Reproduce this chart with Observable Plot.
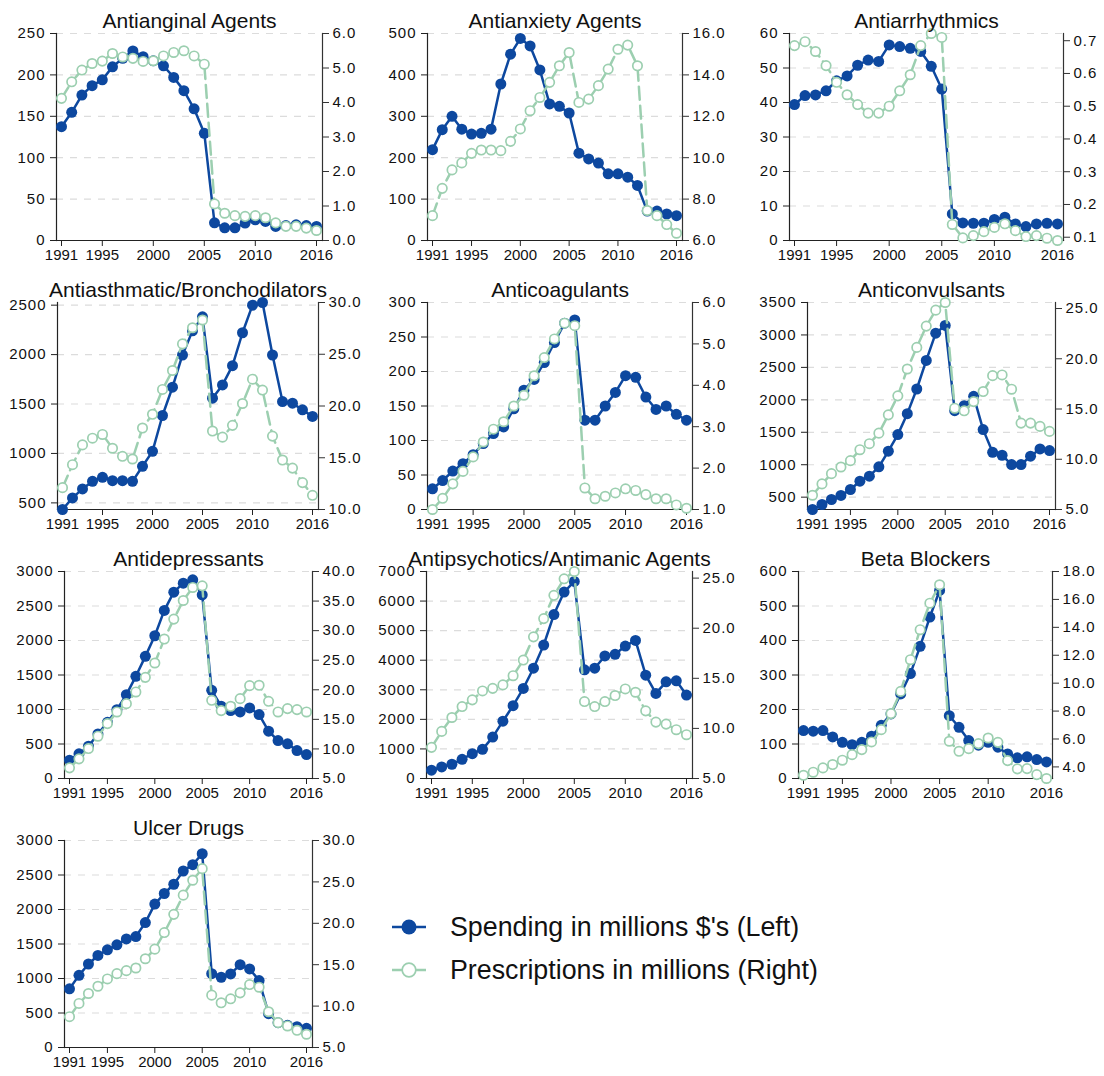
<!DOCTYPE html>
<html>
<head>
<meta charset="utf-8">
<script src="https://cdn.jsdelivr.net/npm/d3@7"></script>
<script src="https://cdn.jsdelivr.net/npm/@observablehq/plot@0.6"></script>
<style>
  body { margin: 0; background: #fff; font-family: "Liberation Sans", Arial, sans-serif; }
  #wrap { position: relative; width: 1104px; height: 1076px; overflow: hidden; }
  .panel { position: absolute; width: 368px; height: 269px; }
  .panel svg [aria-label="y-axis tick label"] { letter-spacing: 1px; }
  .lg-row { position: absolute; left: 392px; height: 34px; display: flex; align-items: center; font-size: 26.8px; color: #111; white-space: nowrap; }
  .lg-row svg { margin-right: 24px; }
</style>
</head>
<body>
<div id="wrap"></div>
<script>
// ---------------- data ----------------
const years = [1991,1992,1993,1994,1995,1996,1997,1998,1999,2000,2001,2002,2003,2004,2005,2006,2007,2008,2009,2010,2011,2012,2013,2014,2015,2016];
const xTicks = [1991, 1995, 2000, 2005, 2010, 2016];

const titles = ["Antianginal Agents", "Antianxiety Agents", "Antiarrhythmics",
  "Antiasthmatic/Bronchodilators", "Anticoagulants", "Anticonvulsants",
  "Antidepressants", "Antipsychotics/Antimanic Agents", "Beta Blockers", "Ulcer Drugs"];

// Spending in millions $ (left axis)
const spendAntianginal = [137.5,154.8,175.7,187,194,209.8,220,229,222,217,211,197,181,159,129.5,21.3,15.3,15.3,21,25,23,17,18,19,18,17];
const spendAntianxiety = [219.5,267.7,299.9,269,257,259,269,378,450,488,470,412,330,324,308,211,197,187,161,161,153,133,71,71,64,60];
const spendAntiarrhythmics = [39.4,42,42.2,43.4,46.3,47.7,50.8,52.3,51.9,56.7,56.2,55.7,54.8,50.5,43.9,7.7,5.1,5.0,5.0,6.1,6.75,4.8,4.05,4.8,5.0,4.8];
const spendAntiasthmatic = [433,550,641,718,759,725,725,718,870,1021,1384,1670,1996,2240,2382,1559,1693,1888,2221,2500,2527,1996,1525,1508,1441,1374];
const spendAnticoagulants = [30,42,55.7,66.4,79.5,95.5,110,119.7,146,173,188.5,213,242,270,274.8,129.4,129.4,150,169.6,194,191.5,163,145,150,138,129.4];
const spendAnticonvulsants = [310,387,464,526,618,746,823,967,1208,1464,1787,2167,2608,3028,3146,1833,1910,2054,1541,1192,1146,1003,1003,1131,1244,1218];
const spendAntidepressants = [265,357,468,646,815,998,1215,1481,1770,2069,2436,2701,2831,2879,2662,1278,1047,984,965,1022,926,685,550,502,405,347];
const spendAntipsychotics = [280,392,482,650,840,986,1400,1938,2464,3046,3730,4514,5544,6306,6664,3674,3730,4144,4200,4480,4670,3494,2878,3270,3304,2822];
const spendBetaBlockers = [139,137,139,120.6,105,98,105,122.5,154,187,245,304,383,468,545,182,148.5,110,96.5,105,90.7,71,60,62.7,55,48];
const spendUlcer = [850,1046,1210,1334,1416,1488,1574,1608,1810,2078,2232,2366,2558,2650,2808,1070,1018,1066,1200,1138,970,490,360,322,302,278];

// Prescriptions in millions (right axis)
const rxAntianginal = [4.12,4.6,4.94,5.13,5.2,5.42,5.32,5.28,5.19,5.21,5.35,5.45,5.5,5.35,5.11,1.06,0.79,0.72,0.70,0.72,0.66,0.51,0.41,0.41,0.36,0.29];
const rxAntianxiety = [7.2,8.52,9.41,9.75,10.21,10.37,10.37,10.34,10.79,11.39,12.27,12.91,13.64,14.44,15.08,12.67,12.83,13.48,14.28,15.24,15.44,14.44,7.45,7.2,6.77,6.35];
const rxAntiarrhythmics = [0.685,0.697,0.667,0.624,0.573,0.535,0.505,0.479,0.479,0.5,0.547,0.596,0.685,0.722,0.71,0.139,0.098,0.105,0.117,0.13,0.141,0.12,0.102,0.105,0.097,0.09];
const rxAntiasthmatic = [12.11,14.33,16.24,16.89,17.25,15.92,15.14,14.88,17.87,19.2,21.6,23.43,26,27.56,28.31,17.58,16.99,18.13,20.24,22.59,21.54,17.09,14.78,14,12.6,11.37];
const rxAnticoagulants = [1.0,1.27,1.62,1.92,2.27,2.63,2.94,3.12,3.5,3.76,4.23,4.67,5.12,5.5,5.44,1.52,1.26,1.32,1.4,1.5,1.46,1.36,1.26,1.26,1.11,1.03];
const rxAnticonvulsants = [6.42,7.55,8.57,9.23,9.86,10.95,11.55,12.6,14.42,16.31,18.98,21.13,23.25,24.84,25.6,15.08,14.82,15.74,16.74,18.32,18.39,16.97,13.6,13.6,13.27,12.77];
const rxAntidepressants = [6.8,8.32,10.06,12.15,14.28,16.25,17.66,19.63,22.1,24.53,28.58,31.95,35.1,37.3,37.58,18.22,16.48,17.21,18.5,20.7,20.76,18.05,16.25,16.82,16.65,16.25];
const rxAntipsychotics = [8.11,9.7,11.09,12.18,12.85,13.74,14.0,14.34,15.26,16.82,19.14,20.96,23.28,24.93,25.66,12.68,12.18,12.68,13.28,13.94,13.61,11.75,10.63,10.43,9.87,9.37];
const rxBetaBlockers = [3.4,3.62,3.93,4.17,4.48,4.88,5.24,5.79,6.67,7.82,9.41,11.68,13.83,15.73,17.05,5.84,5.12,5.31,5.67,6.07,5.76,4.45,3.86,3.88,3.45,3.17];
const rxUlcer = [8.72,10.32,11.52,12.4,13.28,13.92,14.28,14.6,15.72,16.88,18.88,21.08,23.4,25.2,26.6,11.32,10.4,10.88,11.6,12.6,12.28,9.32,8.0,7.6,7.08,6.6];

// Axis tick labels
const leftTicksAll = [
  [0,50,100,150,200,250],
  [0,100,200,300,400,500],
  [0,10,20,30,40,50,60],
  [500,1000,1500,2000,2500],
  [0,50,100,150,200,250,300],
  [500,1000,1500,2000,2500,3000,3500],
  [0,500,1000,1500,2000,2500,3000],
  [0,1000,2000,3000,4000,5000,6000,7000],
  [0,100,200,300,400,500,600],
  [0,500,1000,1500,2000,2500,3000]
];
const rightTicksAll = [
  [0,1,2,3,4,5,6],
  [6,8,10,12,14,16],
  [0.1,0.2,0.3,0.4,0.5,0.6,0.7],
  [10,15,20,25,30],
  [1,2,3,4,5,6],
  [5,10,15,20,25],
  [5,10,15,20,25,30,35,40],
  [5,10,15,20,25],
  [4,6,8,10,12,14,16,18],
  [5,10,15,20,25,30]
];
const spendAll = [spendAntianginal, spendAntianxiety, spendAntiarrhythmics, spendAntiasthmatic, spendAnticoagulants,
  spendAnticonvulsants, spendAntidepressants, spendAntipsychotics, spendBetaBlockers, spendUlcer];
const rxAll = [rxAntianginal, rxAntianxiety, rxAntiarrhythmics, rxAntiasthmatic, rxAnticoagulants,
  rxAnticonvulsants, rxAntidepressants, rxAntipsychotics, rxBetaBlockers, rxUlcer];

const legendLabels = ["Spending in millions $'s (Left)", "Prescriptions in millions (Right)"];

// ---------------- layout / style ----------------
const BLUE = "#0d489f";
const GREEN = "#9ccfb0";
const FONT = "'Liberation Sans', Arial, Helvetica, sans-serif";
const PW = 368, PH = 269;
const layout = [
  {ml: 56, mr: 46}, {ml: 59, mr: 54}, {ml: 53, mr: 41},
  {ml: 57, mr: 50}, {ml: 59, mr: 44}, {ml: 71, mr: 49},
  {ml: 64, mr: 56}, {ml: 58, mr: 44}, {ml: 62, mr: 52},
  {ml: 64, mr: 56}
];

const wrap = document.getElementById("wrap");

titles.forEach((title, i) => {
  const spend = spendAll[i], rx = rxAll[i];
  const lt = leftTicksAll[i], rt = rightTicksAll[i];
  const [l0, l1] = d3.extent([...lt, ...spend]);
  const [r0, r1] = d3.extent([...rt, ...rx]);
  const toL = v => l0 + (v - r0) / (r1 - r0) * (l1 - l0);
  const fromL = v => r0 + (v - l0) / (l1 - l0) * (r1 - r0);

  const sData = years.map((y, k) => ({year: y, v: spend[k]}));
  const rData = years.map((y, k) => ({year: y, v: toL(rx[k])}));

  const chart = Plot.plot({
    width: PW,
    height: PH,
    marginTop: 33,
    marginBottom: 29,
    marginLeft: layout[i].ml,
    marginRight: layout[i].mr,
    style: {fontFamily: FONT, fontSize: "15px", color: "#111", background: "transparent", overflow: "visible"},
    x: {domain: [1991, 2016], insetLeft: 5, insetRight: 6},
    y: {domain: [l0, l1]},
    marks: [
      Plot.ruleY(lt, {stroke: "#dcdcdc", strokeWidth: 1.2, strokeDasharray: "7,7"}),
      Plot.frame({anchor: "left", stroke: "#222", strokeWidth: 1.2}),
      Plot.frame({anchor: "right", stroke: "#333", strokeWidth: 1.2}),
      Plot.frame({anchor: "bottom", stroke: "#222", strokeWidth: 1.2}),
      Plot.axisY(lt, {anchor: "left", tickSize: 6, tickPadding: 5, fontSize: 15, label: null, stroke: "#222", tickFormat: d => String(d)}),
      Plot.axisY(rt.map(toL), {anchor: "right", tickSize: 6, tickPadding: 4, fontSize: 15, label: null, stroke: "#333", tickFormat: d => fromL(d).toFixed(1)}),
      Plot.axisX(xTicks, {anchor: "bottom", tickSize: 6, tickPadding: 3, fontSize: 15, label: null, stroke: "#222", tickFormat: d => String(d)}),
      Plot.line(sData, {x: "year", y: "v", stroke: BLUE, strokeWidth: 2.5, strokeLinejoin: "round"}),
      Plot.dot(sData, {x: "year", y: "v", r: 5.5, fill: BLUE}),
      Plot.line(rData, {x: "year", y: "v", stroke: GREEN, strokeWidth: 2.5, strokeDasharray: "13,6"}),
      Plot.dot(rData, {x: "year", y: "v", r: 4.7, fill: "white", stroke: GREEN, strokeWidth: 1.7}),
      Plot.text([title], {frameAnchor: "top", dy: -20.5, fontSize: 21, fill: "#111"})
    ]
  });

  const div = document.createElement("div");
  div.className = "panel";
  div.style.left = ((i % 3) * PW) + "px";
  div.style.top = (Math.floor(i / 3) * PH) + "px";
  div.appendChild(chart);
  wrap.appendChild(div);
});

// legend
const lgTops = [910, 953];
legendLabels.forEach((label, k) => {
  const row = document.createElement("div");
  row.className = "lg-row";
  row.style.top = lgTops[k] + "px";
  const sym = k === 0
    ? `<svg width="34" height="20"><line x1="0" y1="10" x2="34" y2="10" stroke="${BLUE}" stroke-width="2.5"/><circle cx="17" cy="10" r="7.5" fill="${BLUE}"/></svg>`
    : `<svg width="34" height="20"><line x1="0" y1="10" x2="34" y2="10" stroke="${GREEN}" stroke-width="2.5"/><circle cx="17" cy="10" r="6.8" fill="white" stroke="${GREEN}" stroke-width="1.7"/></svg>`;
  row.innerHTML = sym + `<span>${label}</span>`;
  wrap.appendChild(row);
});
</script>
</body>
</html>
